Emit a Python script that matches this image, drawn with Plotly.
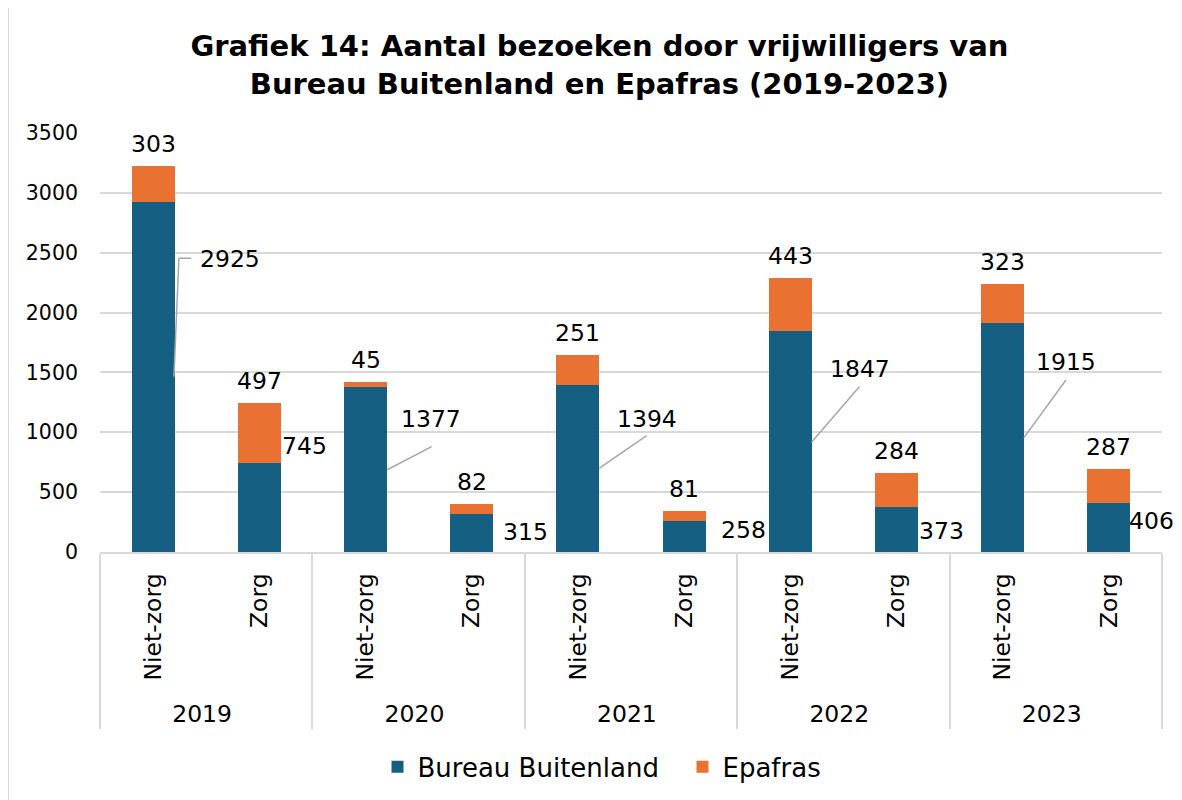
import plotly.graph_objects as go

years = ["2019", "2019", "2020", "2020", "2021", "2021", "2022", "2022", "2023", "2023"]
types = ["Niet-zorg", "Zorg"] * 5
bureau = [2925, 745, 1377, 315, 1394, 258, 1847, 373, 1915, 406]
epafras = [303, 497, 45, 82, 251, 81, 443, 284, 323, 287]

BLUE = "#156082"
ORANGE = "#E97132"
GRID = "#d9d9d9"
FONT = "DejaVu Sans"

# label placement (layout only): text center (x index, y value) for the Bureau labels
lab_x = [0.72, 1.43, 2.617, 3.511, 4.65, 5.555, 6.652, 7.428, 8.594, 9.40]
lab_y = [2448, 886, 1107, 170, 1107, 184, 1529, 173, 1583, 263]
# leader lines: list of point lists (x index, y value), None = no leader
leaders = [
    [(0.196, 1464), (0.243, 2454), (0.36, 2454)],
    None,
    [(2.2, 685), (2.623, 880)],
    None,
    [(4.2, 699), (4.647, 972)],
    None,
    [(6.2, 916), (6.65, 1381)],
    None,
    [(8.2, 955), (8.596, 1437)],
    None,
]

# a leading no-break space gives the rotated labels a little extra depth (visual spacing only)
axis_types = ["\u00a0" + t for t in types]

fig = go.Figure()
fig.add_trace(go.Bar(x=[years, axis_types], y=bureau, name="Bureau Buitenland",
                     marker=dict(color=BLUE, line=dict(width=0))))
fig.add_trace(go.Bar(x=[years, axis_types], y=epafras, name="Epafras",
                     marker=dict(color=ORANGE, line=dict(width=0))))

annotations = []
shapes = []
for i, (b, e) in enumerate(zip(bureau, epafras)):
    annotations.append(dict(x=i, y=b + e, xref="x", yref="y", text=str(e), showarrow=False,
                            yanchor="middle", yshift=22, font=dict(size=23.5, color="#000000", family=FONT)))
    annotations.append(dict(x=lab_x[i], y=lab_y[i], xref="x", yref="y", text=str(b), showarrow=False,
                            xanchor="center", yanchor="middle", font=dict(size=23.5, color="#000000", family=FONT)))
    if leaders[i]:
        pts = leaders[i]
        for (x0, y0), (x1, y1) in zip(pts[:-1], pts[1:]):
            shapes.append(dict(type="line", xref="x", yref="y", x0=x0, y0=y0, x1=x1, y1=y1,
                               line=dict(color="#a6a6a6", width=1.5)))

# outer chart frame
shapes.append(dict(type="rect", xref="paper", yref="paper", x0=-0.0866, x1=1.3, y0=-1.5, y1=1.3007,
                   line=dict(color=GRID, width=2), fillcolor="rgba(0,0,0,0)", layer="below"))

fig.update_layout(
    width=1174, height=792,
    margin=dict(l=92, r=20, t=125, b=248, autoexpand=False),
    paper_bgcolor="white", plot_bgcolor="white",
    barmode="stack", bargap=0.595,
    font=dict(family=FONT, color="#000000"),
    title=dict(text="<b>Grafiek 14: Aantal bezoeken door vrijwilligers van<br>Bureau Buitenland en Epafras (2019-2023)</b>",
               x=0.5038, xanchor="center", xref="container", y=0.9394, yanchor="middle", yref="container",
               font=dict(size=29, family=FONT, color="#000000")),
    legend=dict(orientation="h", x=0.5485, xanchor="center", y=-0.513, yanchor="middle",
                font=dict(size=26, family=FONT), traceorder="normal", entrywidth=260),
    annotations=annotations,
    shapes=shapes,
    showlegend=True,
)
fig.update_yaxes(range=[0, 3500], dtick=500, showgrid=True, gridcolor=GRID, gridwidth=1.5,
                 zeroline=False, showline=False, tickfont=dict(size=20.5, family=FONT), ticks="",
                 ticklabelstandoff=21, automargin=False)
fig.update_xaxes(type="multicategory", range=[-0.5, 9.5], showline=True, linecolor=GRID, linewidth=2,
                 showdividers=True, dividercolor=GRID, dividerwidth=2, ticks="",
                 tickangle=-90, tickfont=dict(size=23.5, family=FONT), ticklabelstandoff=10,
                 automargin=False)

fig.write_html("out.html")
